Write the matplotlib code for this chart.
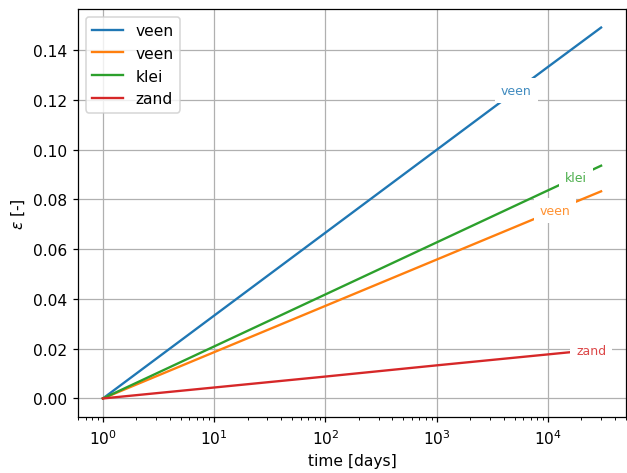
import numpy as np
import matplotlib
matplotlib.use("Agg")
import matplotlib.pyplot as plt

# time axis (days) and strain per soil layer
time_days = [1, 10, 100, 1000, 10000, 30000]
eps_veen_1 = [0.0, 0.0333, 0.0666, 0.0999, 0.1332, 0.1490]
eps_veen_2 = [0.0, 0.0186, 0.0372, 0.0558, 0.0744, 0.0832]
eps_klei = [0.0, 0.0209, 0.0418, 0.0627, 0.0836, 0.0935]
eps_zand = [0.0, 0.0044, 0.0088, 0.0133, 0.0177, 0.0198]

series_names = ["veen", "veen", "klei", "zand"]
series_values = [eps_veen_1, eps_veen_2, eps_klei, eps_zand]
label_times = [5.2e3, 1.15e4, 1.78e4, 2.45e4]

DPI = 112
fig = plt.figure(figsize=(627 / DPI, 474 / DPI), dpi=DPI)
ax = fig.add_axes([78 / 627, 1 - 418 / 474, (626 - 78) / 627, (418 - 10) / 474])

lines = []
for name, vals in zip(series_names, series_values):
    (ln,) = ax.plot(time_days, vals, label=name, lw=1.5)
    lines.append(ln)

ax.set_xscale("log")
ax.grid(True, which="major")
ax.set_xlabel("time [days]")
ax.set_ylabel(r"$\varepsilon$ [-]")
ax.legend(loc="upper left")

# inline labels placed on each line
logt = np.log10(time_days)
for ln, name, vals, tl in zip(lines, series_names, series_values, label_times):
    yl = np.interp(np.log10(tl), logt, vals)
    ax.text(tl, yl, name, color=ln.get_color(), fontsize=8, alpha=0.85,
            ha="center", va="center", zorder=5,
            bbox=dict(facecolor="white", edgecolor="none", pad=3.8))

fig.savefig("out.png", dpi=DPI)
